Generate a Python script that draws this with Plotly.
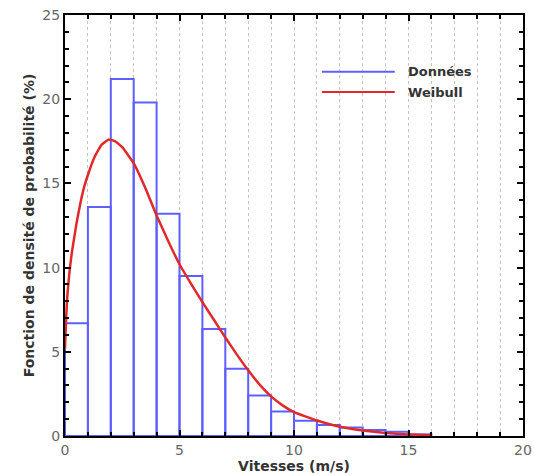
import plotly.graph_objects as go

# Histogram of measured wind speeds (1 m/s bins) and fitted Weibull density
bin_left = [0, 1, 2, 3, 4, 5, 6, 7, 8, 9, 10, 11, 12, 13, 14, 15]
freq_pct = [6.7, 13.6, 21.2, 19.8, 13.2, 9.5, 6.35, 4.0, 2.4, 1.45, 0.9, 0.65, 0.5, 0.35, 0.25, 0.1]

weibull_x = [0, 0.05, 0.1, 0.2, 0.3, 0.5, 0.8, 1.0, 1.3, 1.6, 1.9, 2.2, 2.5, 3.0, 3.5, 4.0,
             4.5, 5.0, 5.5, 6.0, 6.5, 7.0, 7.5, 8.0, 8.5, 9.0, 9.5, 10, 11, 12, 13, 14, 15, 16]
weibull_y = [5.2, 7.0, 8.3, 9.8, 10.9, 12.6, 14.6, 15.5, 16.6, 17.3, 17.6, 17.5, 17.15, 16.2, 14.75, 13.1,
             11.6, 10.2, 9.05, 7.95, 6.9, 5.85, 4.85, 3.9, 3.05, 2.35, 1.82, 1.42, 0.92, 0.55, 0.33, 0.18, 0.09, 0.03]

x_ticks = [0, 5, 10, 15, 20]
y_ticks = [0, 5, 10, 15, 20, 25]

BLUE = "#5f5fff"
RED = "#e02a2a"
FONT = "DejaVu Sans, Verdana, sans-serif"

fig = go.Figure()

fig.add_trace(go.Bar(
    x=[b + 0.5 for b in bin_left],
    y=freq_pct,
    width=1,
    marker=dict(color="rgba(255,255,255,0)", line=dict(color=BLUE, width=2)),
    name="Données",
    showlegend=False,
))

fig.add_trace(go.Scatter(
    x=weibull_x,
    y=weibull_y,
    mode="lines",
    line=dict(color=RED, width=2.5, shape="spline", smoothing=0.3),
    name="Weibull",
    showlegend=False,
))

# Legend drawn by hand so the sample lines are long
legend_items = [("Données", BLUE, 0.865), ("Weibull", RED, 0.817)]
for label, color, yy in legend_items:
    fig.add_shape(type="line", xref="paper", yref="paper",
                  x0=0.561, x1=0.72, y0=yy, y1=yy,
                  line=dict(color=color, width=2))
    fig.add_annotation(xref="paper", yref="paper", x=0.745, y=yy,
                       text=f"<b>{label}</b>", showarrow=False, xanchor="left", yanchor="middle",
                       font=dict(family=FONT, size=13, color="#333"))

axis_common = dict(
    showline=True, linecolor="black", linewidth=2, mirror="ticks",
    ticks="inside", ticklen=6, tickwidth=2, tickcolor="black",
    tickfont=dict(family=FONT, size=14, color="#666"),
    zeroline=False, automargin=False,
)

fig.update_xaxes(
    range=[0, 20], tickvals=x_ticks,
    showgrid=False,
    minor=dict(dtick=1, ticks="inside", ticklen=4, tickwidth=2, tickcolor="black",
               showgrid=True, gridcolor="#c4c4c4", griddash="dot", gridwidth=1),
    title=dict(text="<b>Vitesses (m/s)</b>", font=dict(family=FONT, size=14, color="#333"), standoff=2),
    **axis_common,
)
fig.update_yaxes(
    range=[0, 25], tickvals=y_ticks,
    showgrid=False,
    minor=dict(dtick=1, ticks="inside", ticklen=4, tickwidth=2, tickcolor="black", showgrid=False),
    title=dict(text="<b>Fonction de densité de probabilité (%)</b>", font=dict(family=FONT, size=14, color="#333"), standoff=4),
    **axis_common,
)

fig.update_layout(
    width=534, height=475,
    margin=dict(l=65, r=11, t=15, b=39),
    paper_bgcolor="white", plot_bgcolor="white",
    barmode="overlay",
    font=dict(family=FONT),
)

fig.write_html("out.html")
